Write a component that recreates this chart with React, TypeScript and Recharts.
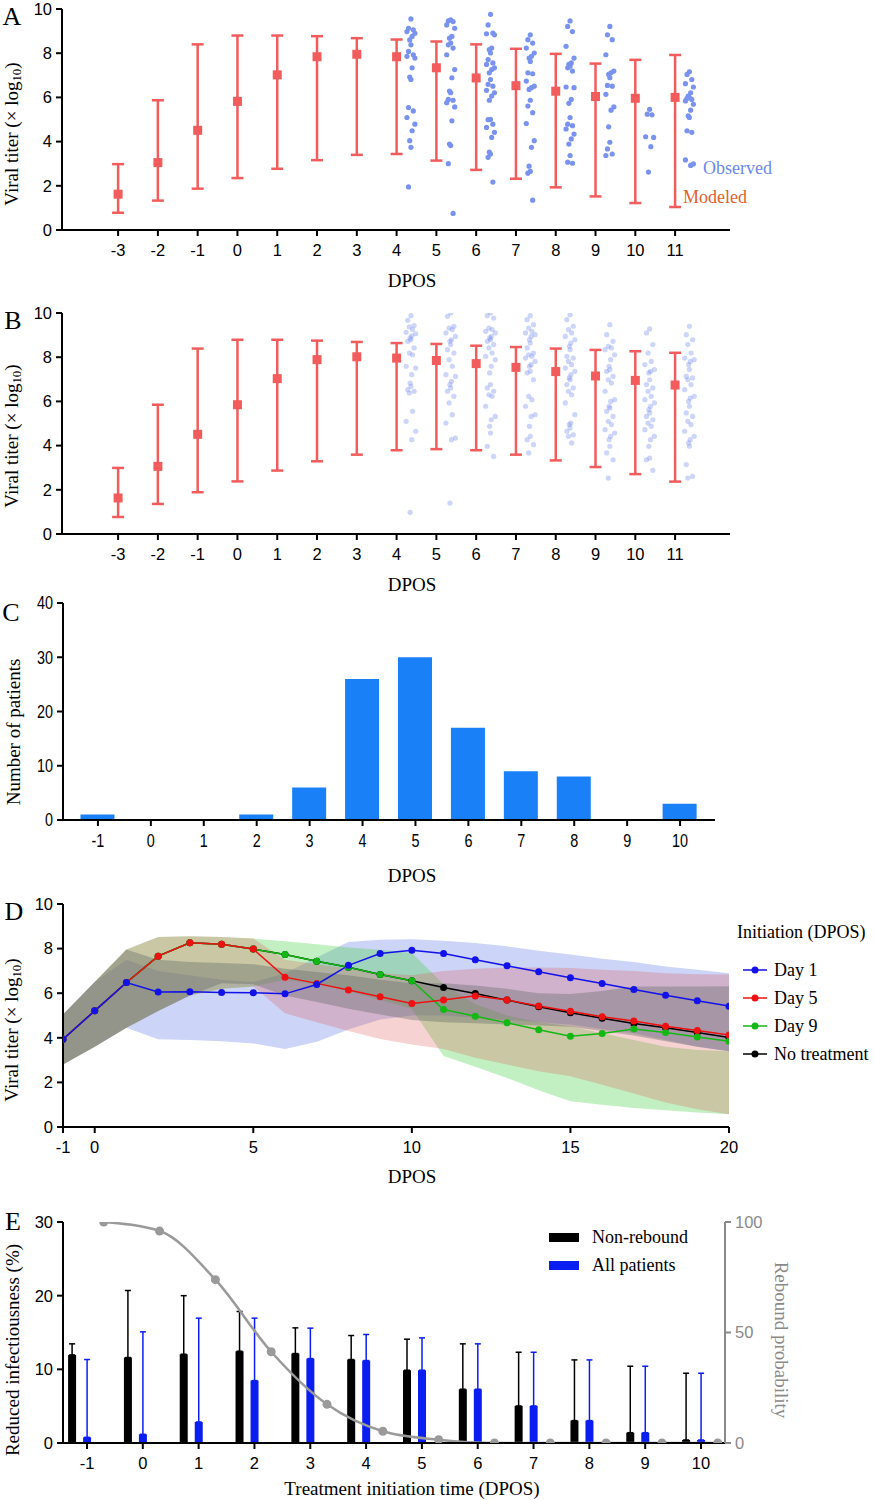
import React from "react";
import {
  ComposedChart, BarChart, Bar, Line, Area, Scatter, XAxis, YAxis, ErrorBar,
} from "recharts";

const SERIF = '"Liberation Serif", "Times New Roman", serif';
const SANS = '"Liberation Sans", Arial, sans-serif';

// ---- A / B: modeled viral titer (mean and 95% range) ----
const modelDays = [-3, -2, -1, 0, 1, 2, 3, 4, 5, 6, 7, 8, 9, 10, 11];
const modelA = [1.62, 3.05, 4.51, 5.82, 7.02, 7.84, 7.95, 7.84, 7.34, 6.88, 6.53, 6.28, 6.04, 5.96, 6.0];
const modelALow = [0.78, 1.33, 1.87, 2.35, 2.77, 3.16, 3.4, 3.44, 3.14, 2.72, 2.32, 1.93, 1.52, 1.22, 1.04];
const modelAHigh = [2.98, 5.87, 8.4, 8.8, 8.8, 8.77, 8.68, 8.62, 8.53, 8.4, 8.2, 7.97, 7.53, 7.7, 7.92];

const modelB = [1.63, 3.06, 4.51, 5.85, 7.03, 7.89, 8.02, 7.96, 7.85, 7.71, 7.54, 7.35, 7.15, 6.95, 6.74];
const modelBLow = [0.77, 1.36, 1.89, 2.38, 2.87, 3.29, 3.59, 3.79, 3.84, 3.79, 3.59, 3.33, 3.03, 2.71, 2.37];
const modelBHigh = [2.99, 5.85, 8.39, 8.79, 8.79, 8.75, 8.69, 8.64, 8.6, 8.52, 8.46, 8.39, 8.33, 8.27, 8.2];

// ---- A: observed titers per day ----
const obsDays = [4, 5, 6, 7, 8, 9, 10, 11];
const obsA4 = [9.55, 9.13, 9.06, 8.98, 8.9, 8.76, 8.6, 8.38, 8.08, 7.93, 7.86, 7.78, 7.34, 6.92, 6.81, 5.54, 5.39, 5.09, 4.79, 4.49, 4.04, 3.74, 1.95];
const obsA5 = [9.51, 9.46, 9.43, 9.28, 9.13, 8.76, 8.68, 8.46, 8.38, 8.23, 7.93, 7.26, 6.89, 6.29, 6.21, 5.91, 5.87, 5.76, 5.57, 4.94, 3.89, 3.82, 3.0, 0.75];
const obsA6 = [9.76, 9.28, 8.91, 8.88, 8.83, 8.23, 8.16, 8.01, 7.71, 7.56, 7.49, 7.34, 7.26, 7.11, 6.81, 6.59, 6.51, 6.32, 6.21, 6.06, 5.87, 5.01, 4.99, 4.79, 4.64, 4.42, 4.19, 3.52, 3.44, 3.29, 2.17];
const obsA7 = [8.83, 8.61, 8.46, 8.23, 8.01, 7.86, 7.78, 7.63, 7.11, 7.07, 6.74, 6.51, 6.44, 6.36, 5.87, 5.61, 5.31, 4.82, 4.04, 3.74, 2.89, 2.65, 2.57, 1.35];
const obsA8 = [9.46, 9.21, 8.98, 8.31, 7.78, 7.56, 7.49, 7.41, 7.34, 7.19, 6.47, 6.44, 5.91, 5.73, 5.09, 4.79, 4.72, 4.57, 4.34, 4.12, 3.89, 3.37, 3.07, 3.02];
const obsA9 = [9.21, 8.83, 8.61, 7.93, 7.19, 7.11, 7.04, 6.89, 6.54, 6.51, 6.14, 5.57, 5.42, 4.67, 3.97, 3.67, 3.44, 3.37];
const obsA10 = [5.46, 5.24, 5.21, 4.22, 4.19, 3.77, 2.62];
const obsA11 = [7.16, 7.04, 6.81, 6.62, 6.47, 6.21, 6.06, 5.99, 5.96, 5.91, 5.84, 5.69, 5.42, 5.16, 5.09, 4.49, 4.42, 3.17, 2.99, 2.92];

// ---- B: observed titers per day ----
const obsB4 = [9.88, 9.67, 9.43, 9.37, 9.25, 9.13, 9.06, 8.97, 8.87, 8.79, 8.72, 8.42, 8.19, 8.11, 7.59, 7.51, 7.21, 6.83, 6.68, 6.53, 6.46, 6.38, 5.55, 5.1, 4.65, 4.27, 0.98];
const obsB5 = [10.0, 9.85, 9.4, 9.32, 9.25, 9.1, 8.94, 8.79, 8.72, 8.57, 8.34, 8.19, 7.89, 7.59, 7.21, 7.13, 6.91, 6.76, 6.61, 6.46, 6.23, 5.93, 5.4, 5.02, 4.34, 4.27, 1.4];
const obsB6 = [10.0, 9.88, 9.77, 9.32, 9.25, 9.17, 9.1, 8.94, 8.87, 8.79, 8.72, 8.57, 8.42, 8.19, 8.04, 7.89, 7.59, 7.29, 6.76, 6.61, 6.46, 6.3, 6.23, 5.78, 5.32, 5.17, 4.87, 4.57, 3.97, 3.51];
const obsB7 = [9.88, 9.7, 9.47, 9.32, 9.17, 9.1, 9.02, 8.94, 8.79, 8.64, 8.42, 8.19, 8.11, 8.04, 7.96, 7.81, 7.66, 7.59, 7.36, 7.29, 6.98, 6.23, 6.08, 5.78, 5.4, 5.32, 4.87, 4.42, 4.27, 4.04, 3.67];
const obsB8 = [9.92, 9.7, 9.4, 9.25, 9.1, 8.94, 8.79, 8.64, 8.49, 8.34, 8.04, 7.96, 7.81, 7.66, 7.51, 7.36, 7.21, 7.06, 6.98, 6.76, 6.61, 6.46, 6.3, 5.93, 5.4, 5.02, 4.95, 4.8, 4.65, 4.49, 4.42, 4.12];
const obsB9 = [9.47, 9.02, 8.72, 8.49, 8.42, 8.34, 8.11, 7.89, 7.59, 7.44, 7.36, 7.13, 6.98, 6.83, 6.46, 6.08, 6.0, 5.78, 5.7, 5.55, 5.32, 5.1, 4.95, 4.72, 4.57, 4.42, 4.27, 3.97, 3.67, 3.36, 2.53];
const obsB10 = [9.28, 9.1, 8.57, 8.19, 7.81, 7.66, 7.44, 7.36, 7.29, 6.98, 6.76, 6.61, 6.46, 6.23, 6.08, 5.93, 5.78, 5.63, 5.48, 5.32, 5.17, 5.02, 4.87, 4.72, 4.42, 4.27, 3.97, 3.44, 3.36, 2.88];
const obsB11 = [9.4, 9.02, 8.79, 8.57, 8.19, 7.96, 7.89, 7.81, 7.66, 7.44, 7.13, 7.06, 6.98, 6.76, 6.53, 6.23, 6.15, 6.0, 5.78, 5.48, 5.32, 5.1, 4.95, 4.65, 4.42, 4.27, 4.12, 3.97, 3.14, 2.61, 2.53];

// horizontal spread of the observed dots (display only)
const jitA = [0, -0.06, 0.06, -0.1, 0.1, 0.03, -0.03];
const jitB = [0, -0.08, 0.08, -0.04, 0.04, -0.12, 0.12, 0.02, -0.02];

// ---- C: patients by DPOS ----
const cDays = [-1, 0, 1, 2, 3, 4, 5, 6, 7, 8, 9, 10];
const cCounts = [1, 0, 0, 1, 6, 26, 30, 17, 9, 8, 0, 3];

// ---- D: modeled trajectories ----
const dDays = [-1, 0, 1, 2, 3, 4, 5, 6, 7, 8, 9, 10, 11, 12, 13, 14, 15, 16, 17, 18, 19, 20];
const day1 = [3.94, 5.21, 6.48, 6.05, 6.06, 6.03, 6.02, 5.97, 6.39, 7.25, 7.78, 7.93, 7.78, 7.5, 7.23, 6.96, 6.69, 6.44, 6.17, 5.91, 5.66, 5.42];
const day5 = [3.94, 5.21, 6.48, 7.66, 8.26, 8.2, 7.98, 6.72, 6.44, 6.14, 5.84, 5.54, 5.7, 5.88, 5.69, 5.43, 5.19, 4.94, 4.75, 4.52, 4.33, 4.12];
const day9 = [3.94, 5.21, 6.48, 7.66, 8.26, 8.2, 7.98, 7.74, 7.43, 7.16, 6.84, 6.56, 5.27, 4.97, 4.67, 4.36, 4.07, 4.19, 4.39, 4.24, 4.04, 3.85];
const noTreat = [3.94, 5.21, 6.48, 7.66, 8.26, 8.2, 7.98, 7.74, 7.43, 7.16, 6.84, 6.56, 6.26, 5.99, 5.69, 5.39, 5.12, 4.88, 4.64, 4.45, 4.24, 4.01];

const band1Lo = [2.8, 3.6, 4.45, 3.93, 3.9, 3.85, 3.75, 3.5, 3.82, 4.37, 4.82, 5.0, 5.0, 4.9, 4.8, 4.7, 4.6, 4.4, 4.2, 3.9, 3.6, 3.4];
const band1Hi = [5.04, 6.5, 7.5, 7.0, 6.8, 6.6, 6.5, 6.9, 7.6, 8.3, 8.4, 8.42, 8.35, 8.25, 8.1, 7.9, 7.73, 7.55, 7.4, 7.2, 7.05, 6.9];
const band5Lo = [2.8, 3.6, 4.45, 5.2, 5.9, 6.2, 6.3, 5.1, 4.7, 4.3, 3.95, 3.7, 3.5, 3.1, 2.8, 2.5, 2.28, 1.9, 1.5, 1.1, 0.8, 0.57];
const band5Hi = [5.04, 6.5, 7.96, 8.52, 8.55, 8.52, 8.45, 7.5, 7.3, 7.1, 6.9, 6.8, 7.0, 7.1, 7.15, 7.15, 7.13, 7.05, 7.0, 6.9, 6.85, 6.84];
const band9Lo = [2.8, 3.6, 4.45, 5.2, 5.9, 6.2, 6.3, 6.6, 6.4, 6.1, 5.7, 5.3, 3.18, 2.7, 2.2, 1.65, 1.16, 1.0, 0.85, 0.75, 0.65, 0.57];
const band9Hi = [5.04, 6.5, 7.96, 8.52, 8.55, 8.52, 8.45, 8.33, 8.2, 8.05, 7.95, 7.8, 6.4, 5.5, 5.0, 4.7, 4.52, 4.2, 3.9, 3.6, 3.45, 3.4];
const bandNtLo = [2.8, 3.6, 4.45, 5.2, 5.9, 6.45, 6.4, 5.9, 5.6, 5.3, 5.05, 4.8, 4.7, 4.65, 4.6, 4.55, 4.5, 4.3, 4.1, 3.85, 3.6, 3.4];
const bandNtHi = [5.04, 6.5, 7.96, 7.5, 7.4, 7.35, 7.3, 7.1, 6.95, 6.8, 6.6, 6.45, 6.45, 6.35, 6.2, 6.0, 5.96, 6.1, 6.3, 6.3, 6.3, 6.31];

// ---- E: reduced infectiousness and rebound ----
const eDays = [-1, 0, 1, 2, 3, 4, 5, 6, 7, 8, 9, 10];
const nonRebound = [11.96, 11.6, 12.05, 12.46, 12.14, 11.33, 9.88, 7.3, 5.03, 3.04, 1.4, 0.41];
const nonReboundTop = [13.46, 20.7, 20.0, 17.85, 15.63, 14.59, 14.09, 13.46, 12.32, 11.28, 10.42, 9.47];
const allPatients = [0.77, 1.18, 2.85, 8.47, 11.46, 11.19, 9.88, 7.3, 5.03, 3.04, 1.4, 0.41];
const allPatientsTop = [11.33, 15.09, 16.95, 16.95, 15.59, 14.73, 14.27, 13.46, 12.32, 11.28, 10.42, 9.47];
const rebound = [100, 95.9, 73.9, 41.3, 17.5, 5.3, 1.5, 0, 0, 0, 0, 0];

// ---- tables ----
const modelRows = (m: number[], lo: number[], hi: number[]) =>
  modelDays.map((d, i) => ({ x: d, y: m[i], err: [m[i] - lo[i], hi[i] - m[i]] }));

const obsRows = (lists: number[][], jit: number[]) =>
  lists.flatMap((vals, k) =>
    vals.map((v, i) => ({ x: obsDays[k] + 0.36 + jit[i % jit.length], y: v }))
  );

const modelAData = modelRows(modelA, modelALow, modelAHigh);
const modelBData = modelRows(modelB, modelBLow, modelBHigh);
const obsAData = obsRows([obsA4, obsA5, obsA6, obsA7, obsA8, obsA9, obsA10, obsA11], jitA);
const obsBData = obsRows([obsB4, obsB5, obsB6, obsB7, obsB8, obsB9, obsB10, obsB11], jitB);

const cTable = cDays.map((d, i) => ({ day: d, n: cCounts[i] }));

const dTable = dDays.map((d, i) => ({
  day: d,
  d1: day1[i], d5: day5[i], d9: day9[i], nt: noTreat[i],
  b1: [band1Lo[i], band1Hi[i]],
  b5: [band5Lo[i], band5Hi[i]],
  b9: [band9Lo[i], band9Hi[i]],
  bnt: [bandNtLo[i], bandNtHi[i]],
}));

const eTable = eDays.map((d, i) => ({
  day: d,
  lineX: d + 0.3,
  nr: nonRebound[i],
  nrErr: [0, nonReboundTop[i] - nonRebound[i]],
  ap: allPatients[i],
  apErr: [0, allPatientsTop[i] - allPatients[i]],
  gap: 0,
  reb: rebound[i],
}));

// ---- styles ----
const axisLine = { stroke: "#000", strokeWidth: 2 };
const tick = { fill: "#000", fontSize: 16.5, fontFamily: SANS };

const RED = "#f25c5c";

const square = (p: any) => (
  <rect x={p.cx - 4.5} y={p.cy - 4.5} width={9} height={9} fill={RED} />
);
const dotA = (p: any) => <circle cx={p.cx} cy={p.cy} r={2.6} fill="#7a93ef" />;
const dotB = (p: any) => <circle cx={p.cx} cy={p.cy} r={2.6} fill="#6f88ee" fillOpacity={0.35} />;

// condensed tick labels for panel C
const narrowTick = (side: "x" | "y") => (p: any) => (
  <g transform={`translate(${p.x},${p.y}) scale(0.8,1)`}>
    <text x={0} y={0} dy={side === "x" ? "0.71em" : "0.355em"} textAnchor={side === "x" ? "middle" : "end"}
      fontSize={18} fontFamily={SANS} fill="#000">
      {p.payload.value}
    </text>
  </g>
);

function Txt({ x, y, size = 19, rotate = 0, color = "#000", left = false, family = SERIF, children }: any) {
  return (
    <div
      style={{
        position: "absolute", left: x, top: y, whiteSpace: "nowrap",
        transform: `translate(${left ? "0" : "-50%"}, -50%) rotate(${rotate}deg)`,
        fontFamily: family, fontSize: size, color, lineHeight: 1,
      }}
    >
      {children}
    </div>
  );
}

const titer = (
  <span>
    Viral titer (× log<sub style={{ fontSize: "0.68em", verticalAlign: "-0.25em" }}>10</sub>)
  </span>
);

function LegendLine({ x, y, color, label }: any) {
  return (
    <>
      <svg style={{ position: "absolute", left: x, top: y - 5 }} width={26} height={10}>
        <line x1={0} y1={5} x2={24} y2={5} stroke={color} strokeWidth={1.5} />
        <circle cx={12} cy={5} r={3.5} fill={color} />
      </svg>
      <Txt x={x + 31} y={y} left size={18}>{label}</Txt>
    </>
  );
}

function TiterPanel({ top, model, obs, dot, plotTop, plotH }: any) {
  return (
    <div style={{ position: "absolute", left: 0, top }}>
      <ComposedChart width={875} height={plotTop + plotH + 32} margin={{ top: plotTop, right: 145, bottom: 0, left: 0 }}>
        <XAxis type="number" dataKey="x" domain={[-4.41, 12.38]} ticks={modelDays} interval={0} allowDataOverflow
          height={32} axisLine={axisLine} tickLine={axisLine} tickSize={6} tickMargin={8} tick={tick} />
        <YAxis type="number" dataKey="y" domain={[0, 10]} ticks={[0, 2, 4, 6, 8, 10]} interval={0} allowDataOverflow
          width={62} axisLine={axisLine} tickLine={axisLine} tickSize={6} tickMargin={4} tick={tick} />
        <Scatter data={obs} shape={dot} isAnimationActive={false} />
        <Scatter data={model} shape={square} isAnimationActive={false}>
          <ErrorBar dataKey="err" direction="y" width={6} stroke={RED} strokeWidth={2.5} />
        </Scatter>
      </ComposedChart>
    </div>
  );
}

export default function App() {
  return (
    <div style={{ position: "absolute", left: 0, top: 0, width: 875, height: 1500, background: "#fff", overflow: "hidden" }}>
      {/* A */}
      <TiterPanel top={-10} model={modelAData} obs={obsAData} dot={dotA} plotTop={19} plotH={221} />
      <Txt x={12} y={17} size={26}>A</Txt>
      <Txt x={13} y={134} rotate={-90}>{titer}</Txt>
      <Txt x={412} y={280}>DPOS</Txt>
      <Txt x={703} y={168} left size={18} color="#6d88ea">Observed</Txt>
      <Txt x={683} y={197} left size={18} color="#e2612c">Modeled</Txt>

      {/* B */}
      <TiterPanel top={300} model={modelBData} obs={obsBData} dot={dotB} plotTop={13} plotH={221} />
      <Txt x={13} y={321} size={26}>B</Txt>
      <Txt x={13} y={436} rotate={-90}>{titer}</Txt>
      <Txt x={412} y={584}>DPOS</Txt>

      {/* C */}
      <div style={{ position: "absolute", left: 0, top: 590 }}>
        <BarChart width={875} height={13 + 217 + 32} data={cTable} margin={{ top: 13, right: 160, bottom: 0, left: 0 }}>
          <XAxis type="number" dataKey="day" domain={[-1.66, 10.66]} ticks={cDays} interval={0} allowDataOverflow
            height={32} axisLine={axisLine} tickLine={axisLine} tickSize={6} tickMargin={8} tick={narrowTick("x")} />
          <YAxis type="number" domain={[0, 40]} ticks={[0, 10, 20, 30, 40]} interval={0} allowDataOverflow
            width={63} axisLine={axisLine} tickLine={axisLine} tickSize={6} tickMargin={4} tick={narrowTick("y")} />
          <Bar dataKey="n" fill="#1a80f8" barSize={34} isAnimationActive={false} />
        </BarChart>
      </div>
      <Txt x={11} y={613} size={26}>C</Txt>
      <Txt x={13} y={732} rotate={-90}>Number of patients</Txt>
      <Txt x={412} y={875}>DPOS</Txt>

      {/* D */}
      <div style={{ position: "absolute", left: 0, top: 890 }}>
        <ComposedChart width={875} height={14 + 223 + 32} data={dTable} margin={{ top: 14, right: 146, bottom: 0, left: 0 }}>
          <XAxis type="number" dataKey="day" domain={[-1, 20]} ticks={[-1, 0, 5, 10, 15, 20]} interval={0} allowDataOverflow
            height={32} axisLine={axisLine} tickLine={axisLine} tickSize={6} tickMargin={8} tick={tick} />
          <YAxis type="number" domain={[0, 10]} ticks={[0, 2, 4, 6, 8, 10]} interval={0} allowDataOverflow
            width={63} axisLine={axisLine} tickLine={axisLine} tickSize={6} tickMargin={4} tick={tick} />
          <Area dataKey="b1" type="linear" stroke="none" fill="#5570e4" fillOpacity={0.3} isAnimationActive={false} />
          <Area dataKey="b9" type="linear" stroke="none" fill="#40d040" fillOpacity={0.32} isAnimationActive={false} />
          <Area dataKey="b5" type="linear" stroke="none" fill="#e05050" fillOpacity={0.26} isAnimationActive={false} />
          <Area dataKey="bnt" type="linear" stroke="none" fill="#646a6a" fillOpacity={0.38} isAnimationActive={false} />
          <Line dataKey="nt" type="linear" stroke="#000" strokeWidth={1.5} dot={{ r: 3.5, fill: "#000", stroke: "none" }} activeDot={false} isAnimationActive={false} />
          <Line dataKey="d9" type="linear" stroke="#14b814" strokeWidth={1.5} dot={{ r: 3.5, fill: "#14b814", stroke: "none" }} activeDot={false} isAnimationActive={false} />
          <Line dataKey="d5" type="linear" stroke="#ee1111" strokeWidth={1.5} dot={{ r: 3.5, fill: "#ee1111", stroke: "none" }} activeDot={false} isAnimationActive={false} />
          <Line dataKey="d1" type="linear" stroke="#1111e8" strokeWidth={1.5} dot={{ r: 3.5, fill: "#1111e8", stroke: "none" }} activeDot={false} isAnimationActive={false} />
        </ComposedChart>
      </div>
      <Txt x={14} y={912} size={26}>D</Txt>
      <Txt x={13} y={1030} rotate={-90}>{titer}</Txt>
      <Txt x={412} y={1176}>DPOS</Txt>
      <Txt x={737} y={932} left size={18}>Initiation (DPOS)</Txt>
      <LegendLine x={743} y={970} color="#1111e8" label="Day 1" />
      <LegendLine x={743} y={998} color="#ee1111" label="Day 5" />
      <LegendLine x={743} y={1026} color="#14b814" label="Day 9" />
      <LegendLine x={743} y={1054} color="#000" label="No treatment" />

      {/* E */}
      <div style={{ position: "absolute", left: 0, top: 1200 }}>
        <ComposedChart width={875} height={22 + 221 + 32} data={eTable} barGap={7} margin={{ top: 22, right: 90, bottom: 0, left: 0 }}>
          <XAxis xAxisId="b" type="number" dataKey="day" domain={[-1.43, 10.43]} ticks={eDays} interval={0} allowDataOverflow
            height={32} axisLine={axisLine} tickLine={axisLine} tickSize={6} tickMargin={8} tick={tick} />
          <XAxis xAxisId="l" type="number" dataKey="lineX" domain={[-1.43, 10.43]} allowDataOverflow hide />
          <YAxis yAxisId="left" type="number" domain={[0, 30]} ticks={[0, 10, 20, 30]} interval={0} allowDataOverflow
            width={63} axisLine={axisLine} tickLine={axisLine} tickSize={6} tickMargin={4} tick={tick} />
          <YAxis yAxisId="right" orientation="right" type="number" domain={[0, 100]} ticks={[0, 50, 100]} interval={0} allowDataOverflow
            width={60} axisLine={{ stroke: "#8a8a8a", strokeWidth: 2 }} tickLine={{ stroke: "#8a8a8a", strokeWidth: 2 }}
            tickSize={6} tickMargin={4} tick={{ ...tick, fill: "#8a8a8a" }} />
          <Bar xAxisId="b" yAxisId="left" dataKey="nr" fill="#000" barSize={8} isAnimationActive={false}>
            <ErrorBar dataKey="nrErr" direction="y" width={3} stroke="#000" strokeWidth={1.5} />
          </Bar>
          <Bar xAxisId="b" yAxisId="left" dataKey="ap" fill="#0b1ef2" barSize={8} isAnimationActive={false}>
            <ErrorBar dataKey="apErr" direction="y" width={3} stroke="#0b1ef2" strokeWidth={1.5} />
          </Bar>
          <Bar xAxisId="b" yAxisId="left" dataKey="gap" fill="none" barSize={8} isAnimationActive={false} />
          <Line xAxisId="l" yAxisId="right" dataKey="reb" type="monotone" stroke="#9a9a9a" strokeWidth={2.5}
            dot={{ r: 4.5, fill: "#9a9a9a", stroke: "none" }} activeDot={false} isAnimationActive={false} />
        </ComposedChart>
      </div>
      <Txt x={13} y={1222} size={26}>E</Txt>
      <Txt x={12} y={1350} rotate={-90}>Reduced infectiousness (%)</Txt>
      <Txt x={781} y={1340} rotate={90} color="#8a8a8a">Rebound probability</Txt>
      <Txt x={412} y={1488}>Treatment initiation time (DPOS)</Txt>
      <div style={{ position: "absolute", left: 549, top: 1233, width: 30, height: 9, background: "#000" }} />
      <Txt x={592} y={1237} left size={18}>Non-rebound</Txt>
      <div style={{ position: "absolute", left: 549, top: 1261, width: 30, height: 9, background: "#0b1ef2" }} />
      <Txt x={592} y={1265} left size={18}>All patients</Txt>
    </div>
  );
}
